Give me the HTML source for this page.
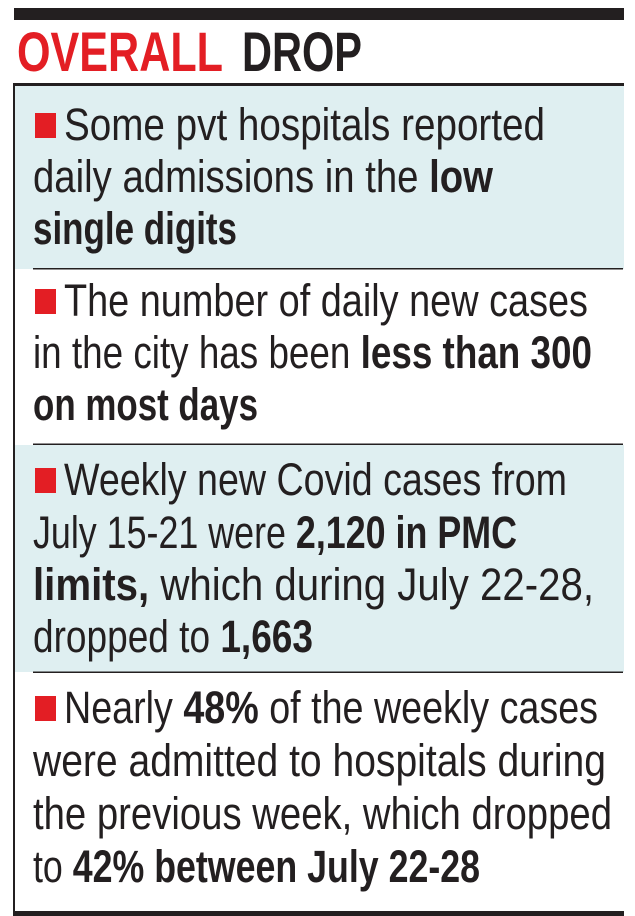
<!DOCTYPE html>
<html><head><meta charset="utf-8"><style>
html,body{margin:0;padding:0;background:#fff}
svg{display:block}
text{font-family:"Liberation Sans",sans-serif;fill:#231f20}
.b{font-weight:bold}
</style></head><body>
<svg width="635" height="916" viewBox="0 0 635 916" xmlns="http://www.w3.org/2000/svg">
<rect x="0" y="0" width="635" height="916" fill="#fff"/>
<rect x="14" y="8" width="610" height="12" fill="#231f20"/>
<text x="17" y="71" font-size="56" font-weight="bold" textLength="206" lengthAdjust="spacingAndGlyphs" style="fill:#e31e24">OVERALL</text>
<text x="242" y="71" font-size="56" font-weight="bold" textLength="120" lengthAdjust="spacingAndGlyphs">DROP</text>
<rect x="14" y="86" width="610" height="183" fill="#dfeff1"/>
<rect x="14" y="445" width="610" height="227" fill="#dfeff1"/>
<rect x="14" y="83" width="610" height="3" fill="#231f20"/>
<rect x="13" y="83" width="2" height="832" fill="#231f20"/>
<rect x="13" y="911" width="611" height="5" fill="#231f20"/>
<rect x="33" y="268" width="590" height="1.5" fill="#231f20"/>
<rect x="33" y="443.5" width="590" height="1.5" fill="#231f20"/>
<rect x="33" y="671.5" width="590" height="1.5" fill="#231f20"/>
<g>
<rect x="35" y="113" width="21" height="25" style="fill:#e31e24"/>
<rect x="35" y="289" width="21" height="25" style="fill:#e31e24"/>
<rect x="35" y="468" width="21" height="25" style="fill:#e31e24"/>
<rect x="35" y="696" width="21" height="25" style="fill:#e31e24"/>
</g>
<g font-size="45">
<text x="64" y="140" textLength="481" lengthAdjust="spacingAndGlyphs">Some pvt hospitals reported</text>
<text x="33" y="192" textLength="460" lengthAdjust="spacingAndGlyphs">daily admissions in the <tspan class="b">low</tspan></text>
<text x="33" y="244" textLength="204" lengthAdjust="spacingAndGlyphs" class="b">single digits</text>

<text x="64" y="316" textLength="524" lengthAdjust="spacingAndGlyphs">The number of daily new cases</text>
<text x="33" y="368" textLength="559" lengthAdjust="spacingAndGlyphs">in the city has been <tspan class="b">less than 300</tspan></text>
<text x="33" y="420" textLength="225" lengthAdjust="spacingAndGlyphs" class="b">on most days</text>

<text x="64" y="495" textLength="503" lengthAdjust="spacingAndGlyphs">Weekly new Covid cases from</text>
<text x="33" y="548" textLength="484" lengthAdjust="spacingAndGlyphs">July 15-21 were <tspan class="b">2,120 in PMC</tspan></text>
<text x="33" y="600" textLength="561" lengthAdjust="spacingAndGlyphs"><tspan class="b">limits,</tspan> which during July 22-28,</text>
<text x="33" y="652" textLength="280" lengthAdjust="spacingAndGlyphs">dropped to <tspan class="b">1,663</tspan></text>

<text x="64" y="723" textLength="534" lengthAdjust="spacingAndGlyphs">Nearly <tspan class="b">48%</tspan> of the weekly cases</text>
<text x="33" y="776" textLength="573" lengthAdjust="spacingAndGlyphs">were admitted to hospitals during</text>
<text x="33" y="829" textLength="579" lengthAdjust="spacingAndGlyphs">the previous week, which dropped</text>
<text x="33" y="882" textLength="447" lengthAdjust="spacingAndGlyphs">to <tspan class="b">42% between July 22-28</tspan></text>
</g>
</svg>
</body></html>
